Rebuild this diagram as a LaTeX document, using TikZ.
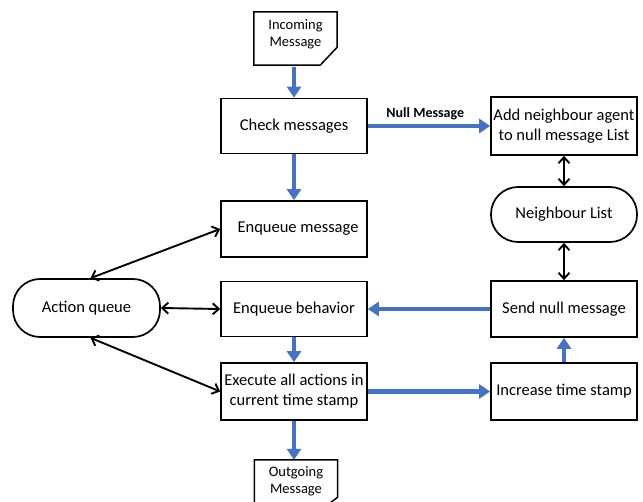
\documentclass[tikz,border=0pt]{standalone}
\usepackage{fontspec}
\setmainfont{Carlito}
\usetikzlibrary{arrows.meta,positioning}
\definecolor{cFlow}{RGB}{68,114,196}
\tikzset{
  procbox/.style={rectangle,draw=black,line width=1.7pt,minimum width=146pt,
                  minimum height=56pt,align=center,inner sep=1pt,
                  font=\fontsize{16.5}{20}\selectfont},
  roundbox/.style={procbox,rounded corners=27pt},
  docnode/.style={minimum width=83pt,align=center,inner sep=0pt,
                  font=\fontsize{14.5}{17}\selectfont},
  docline/.style={line width=1.5pt,line join=miter},
  flowarr/.style={-{Triangle[length=11pt,width=14pt]},line width=4.3pt,color=cFlow},
  duplex/.style={{Straight Barb[length=6pt,width=11pt]}-{Straight Barb[length=6pt,width=11pt]},
                 line width=1.9pt}
}
\begin{document}
\begin{tikzpicture}[x=1pt,y=-1pt]
  \clip (0,0) rectangle (643,502);
  \fill[white] (0,0) rectangle (643,502);

  % left column
  \node[docnode,minimum height=44pt] (inmsg) at (295.5,34) {Incoming\\Message};
  \node[procbox,minimum height=55pt] (check) at (294,126) {Check messages};
  \node[procbox] (enqmsg) at (294,229) {\hspace*{8pt}Enqueue message};
  \node[procbox,minimum height=55pt] (enqbeh) at (294,309) {Enqueue behavior};
  \node[procbox,minimum height=57pt] (exec) at (294,391.5) {Execute all actions in\\current time stamp};
  \node[docnode,minimum height=42pt] (outmsg) at (296,481) {Outgoing\\Message};
  \node[roundbox,minimum width=147pt,minimum height=58pt] (aq) at (86.5,308) {Action queue};

  % right column
  \node[procbox,minimum height=58pt] (addnb) at (564,126) {Add neighbour agent\\to null message List};
  \node[roundbox,minimum height=55pt] (nblist) at (564,214.5) {Neighbour List};
  \node[procbox] (sendnull) at (564,309) {Send null message};
  \node[procbox,minimum height=57pt] (incts) at (564,391.5) {Increase time stamp};

  % document outlines
  \draw[docline] (inmsg.north west) -- (inmsg.north east)
    -- ([yshift=9pt]inmsg.south east) -- ([xshift=-17pt,yshift=-9pt]inmsg.south east)
    -- ([yshift=-9pt]inmsg.south west) -- cycle;
  \draw[docline] (outmsg.north west) -- (outmsg.north east)
    -- ([yshift=5pt]outmsg.south east) -- ([xshift=-17pt,yshift=-8pt]outmsg.south east)
    -- ([yshift=-8pt]outmsg.south west) -- cycle;
  \coordinate (inend) at ([yshift=-11pt]inmsg.south);

  % flow
  \draw[flowarr] (inend -| check.north) -- (check.north);
  \draw[flowarr] (check.south) -- (enqmsg.north);
  \draw[flowarr] (check.east) -- node[pos=0.47,above=1pt,font=\fontsize{14}{16}\selectfont\bfseries,
    text=black] {Null Message} (addnb.west);
  \draw[flowarr] (sendnull.west) -- (enqbeh.east);
  \draw[flowarr] (enqbeh.south) -- (exec.north);
  \draw[flowarr] (exec.east) -- (incts.west);
  \draw[flowarr] (incts.north) -- (sendnull.south);
  \draw[flowarr] (exec.south) -- (exec.south |- outmsg.north);

  % queue links
  \draw[duplex] (addnb.south) -- (nblist.north);
  \draw[duplex] (nblist.south) -- (sendnull.north);
  \draw[duplex] ([xshift=4pt]aq.north) -- (enqmsg.west);
  \draw[duplex] (aq.east) -- (enqbeh.west);
  \draw[duplex] ([xshift=4pt]aq.south) -- (exec.west);
\end{tikzpicture}
\end{document}
